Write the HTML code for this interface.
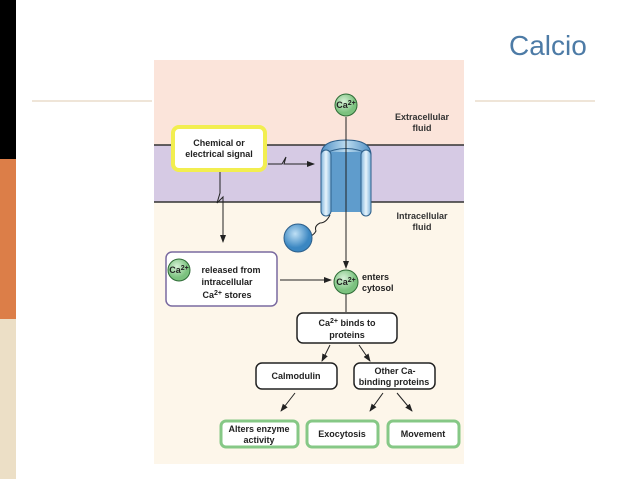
<!DOCTYPE html>
<html><head><style>
body{margin:0;width:638px;height:479px;background:#fff;position:relative;overflow:hidden;font-family:"Liberation Sans",sans-serif}
</style></head><body>
<div style="position:absolute;left:0;top:0;width:16px;height:159px;background:#000"></div>
<div style="position:absolute;left:0;top:159px;width:16px;height:160px;background:#dc7e48"></div>
<div style="position:absolute;left:0;top:319px;width:16px;height:160px;background:#ecdfc6"></div>
<div style="position:absolute;left:32px;top:100px;width:120px;height:2px;background:#efe5d8"></div>
<div style="position:absolute;left:475px;top:100px;width:120px;height:2px;background:#efe5d8"></div>
<div style="position:absolute;left:509px;top:30px;font-size:28px;color:#4d7ba6">Calcio</div>
<svg width="638" height="479" style="position:absolute;left:0;top:0" font-family="Liberation Sans,sans-serif" font-weight="bold" font-size="9">
<defs><marker id="a" markerWidth="8" markerHeight="8" refX="7" refY="4" orient="auto" markerUnits="userSpaceOnUse"><path d="M0,1 L8,4 L0,7z" fill="#222"/></marker>
<linearGradient id="cg" x1="0" x2="1"><stop offset="0" stop-color="#4f8fc4"/><stop offset=".5" stop-color="#bcdcf0"/><stop offset="1" stop-color="#4f8fc4"/></linearGradient>
<linearGradient id="wg" x1="0" x2="1"><stop offset="0" stop-color="#7fb4dc"/><stop offset=".5" stop-color="#e8f4fb"/><stop offset="1" stop-color="#7fb4dc"/></linearGradient>
<radialGradient id="bg" cx=".4" cy=".35"><stop offset="0" stop-color="#bfe0f5"/><stop offset="1" stop-color="#3b87c2"/></radialGradient>
<radialGradient id="gg" cx=".4" cy=".35"><stop offset="0" stop-color="#d8f2d8"/><stop offset="1" stop-color="#7cc27f"/></radialGradient></defs>
<rect x="154" y="60" width="310" height="404" fill="#fdf6ea"/>
<rect x="154" y="60" width="310" height="85" fill="#fbe4da"/>
<rect x="154" y="145" width="310" height="57" fill="#d6cae4"/>
<line x1="154" y1="145" x2="464" y2="145" stroke="#333" stroke-width="1.5"/>
<line x1="154" y1="202" x2="464" y2="202" stroke="#333" stroke-width="1.5"/>
<text x="422" y="120" text-anchor="middle" fill="#333">Extracellular</text><text x="422" y="131" text-anchor="middle" fill="#333">fluid</text>
<text x="422" y="219" text-anchor="middle" fill="#333">Intracellular</text><text x="422" y="230" text-anchor="middle" fill="#333">fluid</text>
<path d="M321,155 Q321,140 346,140 Q371,140 371,155 V205 Q346,198 321,205z" fill="url(#cg)" stroke="#2d5f8a"/>
<rect x="330" y="152" width="32" height="60" fill="#5f9ccc"/>
<path d="M321,155 Q346,142 371,155" fill="none" stroke="#2d5f8a"/>
<rect x="321" y="150" width="10" height="66" rx="5" fill="url(#wg)" stroke="#2d5f8a"/>
<rect x="361" y="150" width="10" height="66" rx="5" fill="url(#wg)" stroke="#2d5f8a"/>
<path d="M330,215 q-4,8 -10,8 q-6,3 -4,8 q-3,6 -10,5" fill="none" stroke="#222"/>
<circle cx="298" cy="238" r="14" fill="url(#bg)" stroke="#2d5f8a"/>
<rect x="173" y="127" width="92" height="43" rx="6" fill="#fff" stroke="#f2ee50" stroke-width="4"/>
<text x="219" y="146" text-anchor="middle" fill="#222">Chemical or</text><text x="219" y="157" text-anchor="middle" fill="#222">electrical signal</text>
<path d="M268,164 h14 l4,-7 l-2,7 h30" fill="none" stroke="#222" marker-end="url(#a)"/>
<path d="M220,172 V193 l-3,10 l6,-6 V242" fill="none" stroke="#222" marker-end="url(#a)"/>
<line x1="346" y1="117" x2="346" y2="268" stroke="#222" marker-end="url(#a)"/>
<circle cx="346" cy="105" r="11" fill="url(#gg)" stroke="#2e6b36"/>
<text x="346" y="108" text-anchor="middle" fill="#222">Ca<tspan font-size="7" dy="-3">2+</tspan></text>
<rect x="166" y="252" width="111" height="54" rx="6" fill="#fff" stroke="#7a6aa0" stroke-width="1.5"/>
<circle cx="179" cy="270" r="11" fill="url(#gg)" stroke="#2e6b36"/>
<text x="179" y="273" text-anchor="middle" fill="#222">Ca<tspan font-size="7" dy="-3">2+</tspan></text>
<text x="231" y="273" text-anchor="middle" fill="#222">released from</text>
<text x="227" y="285" text-anchor="middle" fill="#222">intracellular</text>
<text x="227" y="298" text-anchor="middle" fill="#222">Ca<tspan font-size="7" dy="-3">2+</tspan><tspan dy="3"> stores</tspan></text>
<line x1="280" y1="280" x2="331" y2="280" stroke="#222" marker-end="url(#a)"/>
<circle cx="346" cy="282" r="12" fill="url(#gg)" stroke="#2e6b36"/>
<text x="346" y="285" text-anchor="middle" fill="#222">Ca<tspan font-size="7" dy="-3">2+</tspan></text>
<text x="362" y="280" fill="#222">enters</text><text x="362" y="291" fill="#222">cytosol</text>
<line x1="346" y1="294" x2="346" y2="312" stroke="#222"/>
<rect x="297" y="313" width="100" height="30" rx="6" fill="#fff" stroke="#222" stroke-width="1.5"/>
<text x="347" y="326" text-anchor="middle" fill="#222">Ca<tspan font-size="7" dy="-3">2+</tspan><tspan dy="3"> binds to</tspan></text>
<text x="347" y="338" text-anchor="middle" fill="#222">proteins</text>
<line x1="330" y1="345" x2="322" y2="361" stroke="#222" marker-end="url(#a)"/>
<line x1="359" y1="345" x2="370" y2="361" stroke="#222" marker-end="url(#a)"/>
<rect x="256" y="363" width="81" height="26" rx="6" fill="#fff" stroke="#222" stroke-width="1.5"/>
<text x="296" y="379" text-anchor="middle" fill="#222">Calmodulin</text>
<rect x="354" y="363" width="81" height="26" rx="6" fill="#fff" stroke="#222" stroke-width="1.5"/>
<text x="395" y="374" text-anchor="middle" fill="#222">Other Ca-</text><text x="394" y="385" text-anchor="middle" fill="#222">binding proteins</text>
<line x1="295" y1="393" x2="281" y2="411" stroke="#222" marker-end="url(#a)"/>
<line x1="383" y1="393" x2="370" y2="411" stroke="#222" marker-end="url(#a)"/>
<line x1="397" y1="393" x2="412" y2="411" stroke="#222" marker-end="url(#a)"/>
<g fill="#fff" stroke="#86c886" stroke-width="3">
<rect x="221" y="421" width="77" height="26" rx="5"/><rect x="307" y="421" width="71" height="26" rx="5"/><rect x="388" y="421" width="71" height="26" rx="5"/></g>
<text x="259" y="432" text-anchor="middle" fill="#222">Alters enzyme</text><text x="259" y="443" text-anchor="middle" fill="#222">activity</text>
<text x="342" y="437" text-anchor="middle" fill="#222">Exocytosis</text>
<text x="423" y="437" text-anchor="middle" fill="#222">Movement</text>
</svg>
</body></html>
